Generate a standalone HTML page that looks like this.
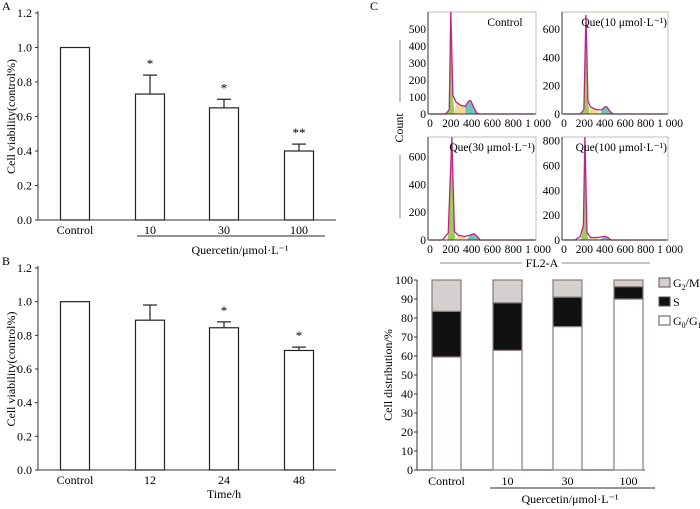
<!DOCTYPE html>
<html><head><meta charset="utf-8"><style>
body{margin:0;background:#fff}
svg{display:block;font-family:"Liberation Serif",serif;}
</style></head><body>
<svg id="fig" width="700" height="509" viewBox="0 0 700 509">
<g id="pA"></g>
<g id="pB"></g>
<g id="pC"></g>
<g id="pD"></g>
</svg>
<script>
// Panel A data
const aCats=["Control","10","30","100"];
const aVals=[1.0,0.73,0.65,0.40];
const aErr=[0,0.11,0.05,0.04];
const aSig=["","*","*","**"];
// Panel B data
const bCats=["Control","12","24","48"];
const bVals=[1.0,0.89,0.845,0.71];
const bErr=[0,0.09,0.035,0.02];
const bSig=["","","*","*"];
const yTicks=["0.0","0.2","0.4","0.6","0.8","1.0","1.2"];
// Histogram data: [FL2-A, count]
const hNames=["Control","Que(10 μmol·L⁻¹)","Que(30 μmol·L⁻¹)","Que(100 μmol·L⁻¹)"];
const hMax=[600,720,740,830];
const hTicks=[[0,100,200,300,400,500],[0,200,400,600],[0,200,400,600],[0,200,400,600,800]];
const hSeries=[
 [[0,0],[150,0],[185,25],[200,600],[220,110],[250,70],[300,50],[340,45],[370,75],[390,80],[420,40],[450,5],[470,0],[1000,0]],
 [[0,0],[160,0],[195,30],[215,700],[235,90],[260,50],[320,30],[370,30],[400,50],[420,50],[450,20],[480,0],[1000,0]],
 [[0,0],[120,0],[175,50],[210,740],[235,60],[270,35],[330,25],[390,35],[420,45],[450,30],[480,0],[1000,0]],
 [[0,0],[110,0],[160,30],[190,120],[205,830],[225,60],[260,20],[330,20],[400,30],[430,20],[460,0],[1000,0]]
];
// Stacked bars
const dCats=["Control","10","30","100"];
const g01=[59.5,63,75.5,90];
const sPh=[24,25,15.5,6.5];
const g2m=[16.5,12,9,3.5];
const dTicks=[0,10,20,30,40,50,60,70,80,90,100];

const NS="http://www.w3.org/2000/svg";
function mk(p,t,a,txt){const e=document.createElementNS(NS,t);for(const k in a)e.setAttribute(k,a[k]);if(txt!==undefined)e.textContent=txt;p.appendChild(e);return e;}

function barPanel(g,cats,vals,err,sig,y0,y12,xLabel,hasLine,letter,letterY){
  const ax=38,xEnd=336;
  const ys=v=>y0-(v/1.2)*(y0-y12);
  mk(g,"text",{x:2,y:letterY,"font-size":12,},letter);
  mk(g,"line",{x1:ax,y1:y12-2,x2:ax,y2:y0,stroke:"#333","stroke-width":1,});
  mk(g,"line",{x1:ax,y1:y0,x2:xEnd,y2:y0,stroke:"#333","stroke-width":1,});
  yTicks.forEach((t,i)=>{const y=ys(+t);
    mk(g,"line",{x1:ax-3,y1:y,x2:ax,y2:y,stroke:"#333",});
    mk(g,"text",{x:ax-6,y:y+4,"font-size":12,"text-anchor":"end",},t);});
  const cx=[75,150,224,299];
  cats.forEach((c,i)=>{
    const top=ys(vals[i]);
    mk(g,"rect",{x:cx[i]-14.5,y:top,width:29,height:y0-top,fill:"#fff",stroke:"#222","stroke-width":1.2,});
    if(err[i]>0){const ye=ys(vals[i]+err[i]);
      mk(g,"line",{x1:cx[i],y1:top,x2:cx[i],y2:ye,stroke:"#222","stroke-width":1.2,});
      mk(g,"line",{x1:cx[i]-7,y1:ye,x2:cx[i]+7,y2:ye,stroke:"#222","stroke-width":1.2,});}
    if(sig[i]) mk(g,"text",{x:cx[i],y:ys(vals[i]+err[i])-7,"font-size":13,"text-anchor":"middle",},sig[i]);
    mk(g,"text",{x:cx[i],y:y0+14,"font-size":12,"text-anchor":"middle",},c);
  });
  if(hasLine){mk(g,"line",{x1:137,y1:y0+16,x2:325,y2:y0+16,stroke:"#555","stroke-width":1.2,});
    mk(g,"text",{x:240,y:y0+34,"font-size":12,"text-anchor":"middle",},xLabel);}
  else mk(g,"text",{x:224,y:y0+28,"font-size":12,"text-anchor":"middle",},xLabel);
  mk(g,"text",{x:0,y:0,"font-size":12,"text-anchor":"middle",transform:`translate(15,${(y0+y12)/2}) rotate(-90)`,},"Cell viability(control%)");
}
barPanel(document.getElementById("pA"),aCats,aVals,aErr,aSig,220,13,"Quercetin/μmol·L⁻¹",true,"A",10);
barPanel(document.getElementById("pB"),bCats,bVals,bErr,bSig,470,268,"Time/h",false,"B",265);

// Histograms
const pC=document.getElementById("pC");
mk(pC,"text",{x:370,y:10,"font-size":12,},"C");
const boxes=[[428,12,536,114],[562,12,668,114],[428,137,536,240],[562,137,668,240]];
boxes.forEach((b,k)=>{
  const [x0,y0,x1,y1]=b;const xs=v=>x0+2+v/1000*(x1-x0-4);const ys=v=>y1-v/hMax[k]*(y1-y0);
  const g=mk(pC,"g",{});
  mk(g,"rect",{x:x0,y:y0,width:x1-x0,height:y1-y0,fill:"#fff",stroke:"#c8b8b0","stroke-width":1,});
  const pts=hSeries[k];
  const seg=(lo,hi,col,nm)=>{let d=`M${xs(lo)},${ys(0)}`;pts.forEach(p=>{if(p[0]>=lo&&p[0]<=hi)d+=`L${xs(p[0])},${ys(p[1])}`;});d+=`L${xs(hi)},${ys(0)}Z`;
    mk(g,"path",{d,fill:col,stroke:"none",});};
  const peak=pts.reduce((a,p)=>p[1]>a[1]?p:a)[0];
  seg(peak-40,peak+35,"#9ccc55","g1-fill");seg(peak+35,peak+140,"#f0dc90","s-fill");seg(peak+140,pts[pts.length-3][0]+50,"#70c4b8","g2-fill");
  let d="";pts.forEach((p,i)=>{d+=(i?"L":"M")+xs(p[0])+","+ys(p[1]);});
  mk(g,"path",{d,fill:"none",stroke:"#c0208a","stroke-width":1.3,});
  mk(g,"line",{x1:x0,y1:y1,x2:x1,y2:y1,stroke:"#333",});
  mk(g,"line",{x1:x0,y1:y0,x2:x0,y2:y1,stroke:"#333",});
  hTicks[k].forEach(t=>mk(g,"text",{x:x0-2,y:ys(t)+4,"font-size":11.5,"text-anchor":"end",},t));
  ["0","200","400","600","800","1 000"].forEach((t,i)=>mk(g,"text",{x:xs(i*200)+(i==5?4:0),y:y1+13,"font-size":11.5,"text-anchor":"middle",},t));
  mk(g,"text",{x:k==0?505:x1-1,y:y0+14,"font-size":11.5,"text-anchor":k==0?"middle":"end",},hNames[k]);
});
mk(pC,"text",{x:0,y:0,"font-size":12,"text-anchor":"middle",transform:"translate(403,128) rotate(-90)",},"Count");
mk(pC,"line",{x1:400,y1:40,x2:400,y2:102,stroke:"#888",});
mk(pC,"line",{x1:400,y1:155,x2:400,y2:218,stroke:"#888",});
mk(pC,"line",{x1:440,y1:263,x2:522,y2:263,stroke:"#888",});
mk(pC,"line",{x1:562,y1:263,x2:650,y2:263,stroke:"#888",});
mk(pC,"text",{x:542,y:267,"font-size":12,"text-anchor":"middle",},"FL2-A");

// Stacked bars
const pD=document.getElementById("pD");
const dx0=417,dy0=470,dy1=280;const dys=v=>dy0-v/100*(dy0-dy1);
mk(pD,"line",{x1:dx0,y1:dy1,x2:dx0,y2:dy0,stroke:"#333",});
mk(pD,"line",{x1:dx0,y1:dy0,x2:645,y2:dy0,stroke:"#333",});
dTicks.forEach(t=>{mk(pD,"line",{x1:dx0-3,y1:dys(t),x2:dx0,y2:dys(t),stroke:"#333",});
  mk(pD,"text",{x:dx0-4,y:dys(t)+4,"font-size":12,"text-anchor":"end",},t);});
const dcx=[446.5,507.5,567.5,628.5];
dCats.forEach((c,i)=>{
  const segs=[[0,g01[i],"#fff","bar-g0g1-"],[g01[i],g01[i]+sPh[i],"#111","bar-s-"],[g01[i]+sPh[i],g01[i]+sPh[i]+g2m[i],"#d4d0cf","bar-g2m-"]];
  segs.forEach(s=>mk(pD,"rect",{x:dcx[i]-14.5,y:dys(s[1]),width:29,height:dys(s[0])-dys(s[1]),fill:s[2],stroke:"#8a7a78","stroke-width":1.2,}));
  mk(pD,"text",{x:dcx[i],y:dy0+15,"font-size":12,"text-anchor":"middle",},c);
});
mk(pD,"line",{x1:490,y1:488,x2:655,y2:488,stroke:"#555","stroke-width":1.2,});
mk(pD,"text",{x:570,y:503,"font-size":12,"text-anchor":"middle",},"Quercetin/μmol·L⁻¹");
mk(pD,"text",{x:0,y:0,"font-size":12,"text-anchor":"middle",transform:`translate(392,${(dy0+dy1)/2}) rotate(-90)`,},"Cell distribution/%");
const leg=[["#d4d0cf","G","2","/M"],["#111","S","",""],["#fff","G","0","/G1"]];
leg.forEach((l,i)=>{const y=283+i*19;
  const g=mk(pD,"g",{});
  mk(g,"rect",{x:659,y:y-5,width:11,height:9,fill:l[0],stroke:"#555",});
  const t=mk(g,"text",{x:673,y:y+4,"font-size":12,},l[1]);
  if(l[2]){const s=mk(t,"tspan",{"font-size":8,dy:3},l[2]);const r=mk(t,"tspan",{dy:-3},l[3]=="/G1"?"/G":"/M");if(l[3]=="/G1")mk(t,"tspan",{"font-size":8,dy:3},"1");}
});
</script>
</body></html>
